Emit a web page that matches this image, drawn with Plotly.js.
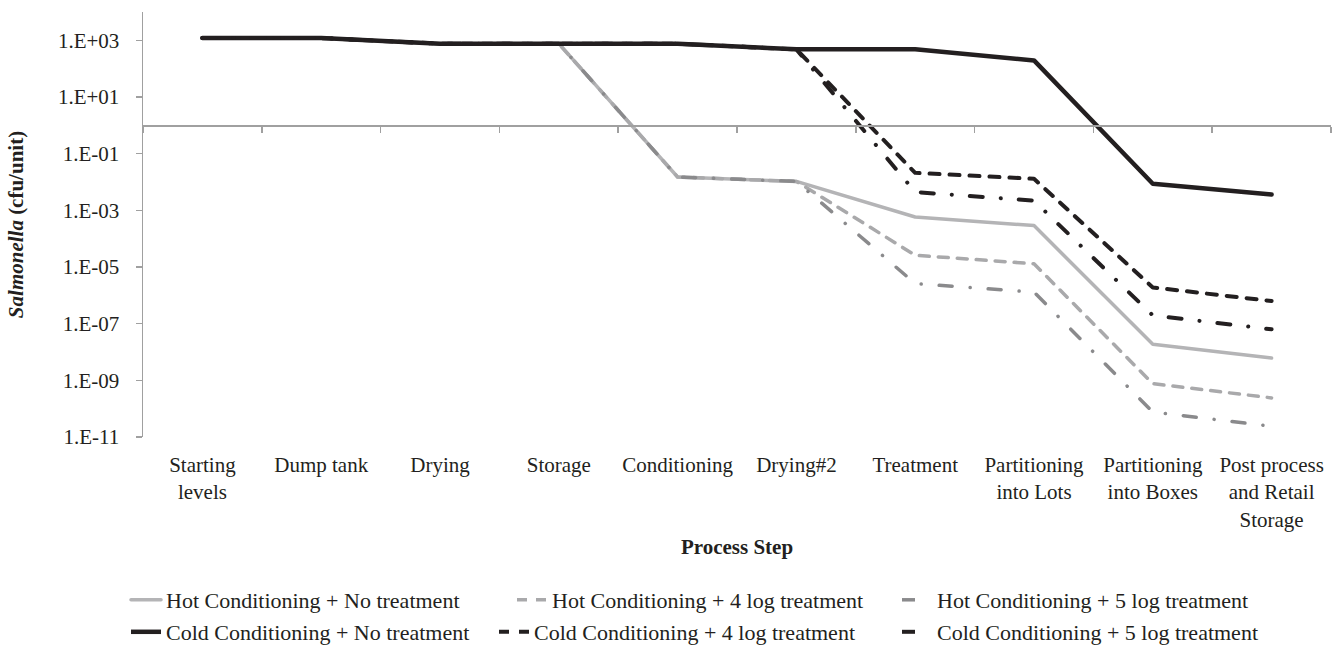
<!DOCTYPE html>
<html>
<head>
<meta charset="utf-8">
<script src="https://cdn.plot.ly/plotly-3.0.1.min.js"></script>
<style>
  html, body { margin: 0; padding: 0; background: #ffffff; }
  #chart { width: 1335px; height: 647px; }
  /* rounded line ends, so dash-dot patterns show real dots */
  .scatterlayer .js-line, .legend .js-line { stroke-linecap: round; stroke-linejoin: round; }
</style>
</head>
<body>
<div id="chart"></div>
<script>
// Process steps (category keys) and their printed labels
const steps = ["Starting levels", "Dump tank", "Drying", "Storage", "Conditioning",
               "Drying#2", "Treatment", "Partitioning into Lots",
               "Partitioning into Boxes", "Post process and Retail Storage"];
const stepLabels = ["Starting<br>levels", "Dump tank", "Drying", "Storage", "Conditioning",
                    "Drying#2", "Treatment", "Partitioning<br>into Lots",
                    "Partitioning<br>into Boxes", "Post process<br>and Retail<br>Storage"];

// Salmonella levels (cfu/unit) along the process
const hotNoTreatment   = [1200, 1200, 760, 760, 0.015, 0.0105, 5.8e-4, 2.9e-4, 1.86e-8, 6.1e-9];
const hot4LogTreatment = [1200, 1200, 760, 760, 0.015, 0.0105, 2.6e-5, 1.3e-5, 7.6e-10, 2.4e-10];
const hot5LogTreatment = [1200, 1200, 760, 760, 0.015, 0.0105, 2.6e-6, 1.3e-6, 7.6e-11, 2.4e-11];
const coldNoTreatment   = [1200, 1200, 760, 760, 760, 480, 480, 196, 0.0087, 0.0036];
const cold4LogTreatment = [1200, 1200, 760, 760, 760, 480, 0.021, 0.013, 1.9e-6, 6.3e-7];
const cold5LogTreatment = [1200, 1200, 760, 760, 760, 480, 0.0044, 0.0022, 1.96e-7, 6.3e-8];

const seriesNames = ["Hot Conditioning + No treatment", "Hot Conditioning + 4 log treatment",
                     "Hot Conditioning + 5 log treatment", "Cold Conditioning + No treatment",
                     "Cold Conditioning + 4 log treatment", "Cold Conditioning + 5 log treatment"];

// Y tick values and their labels
const yTickVals = [1e3, 1e1, 1e-1, 1e-3, 1e-5, 1e-7, 1e-9, 1e-11];
const yTickText = ["1.E+03", "1.E+01", "1.E-01", "1.E-03", "1.E-05", "1.E-07", "1.E-09", "1.E-11"];

const FONT = "Liberation Serif, Times New Roman, serif";
const INK = "#231f20";
const AXIS = "#a0a0a0";

const W = 1335, H = 647;
const M = { l: 143, r: 4, t: 12, b: 210 };
const plotW = W - M.l - M.r, plotH = H - M.t - M.b;

const styles = [
  { color: "#b4b4b6", width: 3.5, dash: "solid" },
  { color: "#a9a9ab", width: 3.5, dash: "10px,9px" },
  { color: "#8a8a8c", width: 3.5, dash: "13px,18px,0.1px,18px" },
  { color: INK, width: 4.5, dash: "solid" },
  { color: INK, width: 4, dash: "10px,10px" },
  { color: INK, width: 4, dash: "13px,18px,0.1px,18px" }
];

const values = [hotNoTreatment, hot4LogTreatment, hot5LogTreatment,
                coldNoTreatment, cold4LogTreatment, cold5LogTreatment];

// one legend box per series, laid out in two rows of three
const legendIds = ["legend", "legend2", "legend3", "legend4", "legend5", "legend6"];
const legendTextX = [167, 553, 938, 167, 535, 938];   // pixel x where each label starts
const legendRowY = [600, 600, 600, 632, 632, 632];    // pixel y of each row's centre

const traces = values.map((v, i) => ({
  type: "scatter",
  mode: "lines",
  name: seriesNames[i],
  legend: legendIds[i],
  x: steps,
  y: v,
  line: { color: styles[i].color, width: styles[i].width, dash: styles[i].dash },
  hoverinfo: "x+y+name"
}));

// carrier for the axis line drawn through 1 cfu/unit
traces.push({
  type: "scatter", mode: "lines", x: steps, y: steps.map(() => null),
  xaxis: "x2", showlegend: false, hoverinfo: "skip"
});

const layout = {
  width: W,
  height: H,
  margin: { l: M.l, r: M.r, t: M.t, b: M.b, autoexpand: false },
  paper_bgcolor: "#ffffff",
  plot_bgcolor: "#ffffff",
  font: { family: FONT, size: 21, color: INK },
  showlegend: true,
  xaxis: {
    type: "category",
    categoryorder: "array",
    categoryarray: steps,
    range: [-0.5, 9.5],
    tickmode: "array",
    tickvals: steps,
    ticktext: stepLabels,
    ticks: "",
    showline: false,
    showgrid: false,
    zeroline: false,
    ticklabelstandoff: 13,
    tickfont: { family: FONT, size: 21, color: INK },
    title: { text: "<b>Process Step</b>", font: { family: FONT, size: 21, color: INK }, standoff: 8 }
  },
  xaxis2: {
    type: "category",
    categoryorder: "array",
    categoryarray: steps,
    range: [-0.5, 9.5],
    overlaying: "x",
    anchor: "free",
    position: 11 / 15,
    side: "bottom",
    showline: true,
    linecolor: AXIS,
    linewidth: 1.5,
    ticks: "outside",
    tickson: "boundaries",
    ticklen: 6,
    tickwidth: 1.5,
    tickcolor: AXIS,
    showticklabels: false,
    showgrid: false,
    zeroline: false
  },
  yaxis: {
    type: "log",
    range: [-11, 4],
    tickmode: "array",
    tickvals: yTickVals,
    ticktext: yTickText,
    ticks: "outside",
    ticklen: 6,
    tickwidth: 1.5,
    tickcolor: AXIS,
    showline: true,
    linecolor: AXIS,
    linewidth: 1.5,
    showgrid: false,
    zeroline: false,
    ticklabelstandoff: 12,
    tickfont: { family: FONT, size: 21, color: INK },
    title: { text: "<b><i>Salmonella</i> (cfu/unit)</b>", font: { family: FONT, size: 21, color: INK }, standoff: 28 }
  }
};

legendIds.forEach((id, i) => {
  layout[id] = {
    x: (legendTextX[i] - 41 - M.l) / plotW,
    xanchor: "left",
    y: (M.t + plotH - legendRowY[i]) / plotH,
    yanchor: "middle",
    font: { family: FONT, size: 22, color: INK },
    bgcolor: "rgba(0,0,0,0)",
    borderwidth: 0
  };
});

Plotly.newPlot("chart", traces, layout, { displayModeBar: false, staticPlot: true });
</script>
</body>
</html>
